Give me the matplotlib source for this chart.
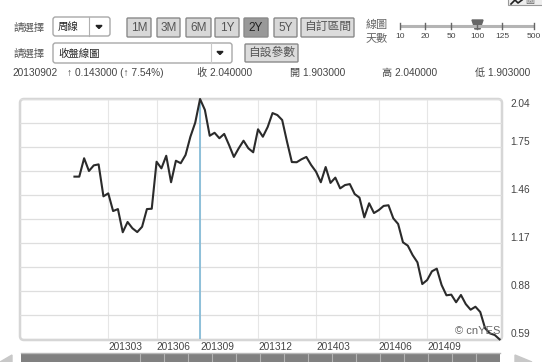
import matplotlib
matplotlib.use("Agg")
import matplotlib.pyplot as plt
from matplotlib.patches import FancyBboxPatch, Polygon, Rectangle

plt.rcParams["font.family"] = ["Liberation Sans", "Noto Sans CJK TC", "DejaVu Sans"]

# weekly close, 2013-2014
closes = [
    1.571, 1.571, 1.682, 1.605, 1.639, 1.645, 1.452, 1.470, 1.363, 1.375,
    1.235, 1.297, 1.259, 1.236, 1.268, 1.375, 1.377, 1.661, 1.621, 1.697,
    1.537, 1.667, 1.652, 1.702, 1.812, 1.897, 2.040, 1.974, 1.818, 1.836,
    1.803, 1.829, 1.762, 1.690, 1.742, 1.788, 1.742, 1.718, 1.857, 1.812,
    1.871, 1.955, 1.943, 1.913, 1.782, 1.659, 1.658, 1.676, 1.690, 1.641,
    1.601, 1.537, 1.629, 1.533, 1.565, 1.500, 1.520, 1.526, 1.466, 1.444,
    1.325, 1.410, 1.351, 1.369, 1.394, 1.398, 1.319, 1.285, 1.174, 1.154,
    1.097, 1.053, 0.922, 0.946, 0.999, 1.015, 0.916, 0.854, 0.858, 0.812,
    0.856, 0.801, 0.767, 0.785, 0.753, 0.655, 0.624, 0.614, 0.588,
]
month_labels = ["201303", "201306", "201309", "201312", "201403", "201406", "201409"]
month_weeks = [7, 17, 26, 38, 50, 63, 73]
price_ticks = [0.59, 0.88, 1.17, 1.46, 1.75, 2.04]
price_grid = [0.735, 1.025, 1.315, 1.605, 1.895]
peak_week = 26

period_buttons = ["1M", "3M", "6M", "1Y", "2Y", "5Y"]
period_left = [127, 157, 186, 215, 244, 274]
period_right = [151, 180, 211, 239, 268, 297]
active_period = "2Y"
days_labels = ["10", "20", "50", "100", "125", "500"]
days_x = [400, 425, 451, 477, 502, 534]

W, H = 542, 362
fig = plt.figure(figsize=(W / 100, H / 100), dpi=100)

# page chrome is laid out in pixels
ui = fig.add_axes([0, 0, 1, 1])
ui.set_xlim(0, W)
ui.set_ylim(H, 0)
ui.axis("off")


def box(x0, y0, x1, y1, face, edge="#a8a8a8", round_=2.5, lw=1.0):
    ui.add_patch(FancyBboxPatch((x0, y0), x1 - x0, y1 - y0, boxstyle=f"round,pad=0,rounding_size={round_}",
                                fc=face, ec=edge, lw=lw))


def label(x, y, s, size=7.5, color="#444444", ha="left", **kw):
    ui.text(x, y, s, fontsize=size, color=color, ha=ha, va="center", **kw)


def arrow_down(x, y):
    ui.add_patch(Polygon([(x - 3, y - 1.5), (x + 3, y - 1.5), (x, y + 1.5)], color="#222222"))


label(13, 28, "請選擇", 7.5, "#555555")
box(53, 17, 110, 36, "white")
ui.plot([89, 89], [17, 36], color="#b0b0b0", lw=0.8)
label(58, 27, "周線", 7.5, "#222222")
arrow_down(99, 27)

for name, x0, x1 in zip(period_buttons, period_left, period_right):
    active = name == active_period
    box(x0, 18, x1, 37, "#999999" if active else "#d8d8d8", "#8a8a8a", 1)
    label((x0 + x1) / 2, 28, name, 8.5, "#222222" if active else "#555555", ha="center")
box(301, 18, 354, 37, "#dcdcdc", "#8a8a8a", 1)
label(327.5, 28, "自訂區間", 8.5, "#555555", ha="center")

label(366, 25, "線圖", 8, "#666666")
label(366, 38, "天數", 8, "#666666")
ui.plot([days_x[0], days_x[-1]], [26, 26], color="#b4b4b4", lw=2.2, solid_capstyle="butt")
for d, x in zip(days_labels, days_x):
    ui.plot([x, x], [23, 29], color="#666666", lw=1)
    ui.text(x, 36, d, fontsize=6, color="#444444", ha="center", va="center", stretch="condensed")
ui.add_patch(Polygon([(472, 20), (483, 20), (480, 29), (475, 29)], color="#666666"))

label(13, 54, "請選擇", 7.5, "#555555")
box(53, 43, 232, 63, "white")
ui.plot([211, 211], [43, 63], color="#c8c8c8", lw=0.8)
label(58, 54, "收盤線圖", 7.5, "#222222")
arrow_down(220, 53)
box(245, 44, 298, 62, "#dcdcdc", "#8a8a8a", 1)
label(271.5, 53, "自設參數", 8.5, "#555555", ha="center")

label(12, 73, "20130902", 7.3)
label(67, 73, "↑ 0.143000 (↑ 7.54%)", 7.3)
label(197, 73, "收 2.040000", 7.3)
label(290, 73, "開 1.903000", 7.3)
label(382, 73, "高 2.040000", 7.3)
label(475, 73, "低 1.903000", 7.3)

# corner icon, cut by the top edge
ui.add_patch(Rectangle((508, -4), 40, 9, fc="#eeeeee", ec="#999999", lw=0.8))
ui.plot([511, 515, 518, 522], [4, 0, 3, 0], color="#222222", lw=1.2)
ui.text(525, 1, "圖", fontsize=6.5, color="#666666", va="center", clip_on=True)

# chart frame
box(20, 99, 502, 340, "white", "#d6d6d6", 4, 1.8)

# scroll bar under the chart
ui.add_patch(Rectangle((21, 353), 479, 10, fc="#808080", ec="none"))
ui.plot([21, 500], [353, 353], color="#b8b8b8", lw=1)
for x in range(140, 500, 24):
    ui.plot([x, x], [354, 362], color="#b4b4b4", lw=0.8)
ui.add_patch(Polygon([(0, 362), (12, 355), (12, 362)], color="#c8c8c8"))
ui.add_patch(Polygon([(515, 355), (532, 362), (515, 362)], color="#c8c8c8"))

# price chart
ax = fig.add_axes([20 / W, 1 - 339 / H, 482 / W, 240 / H])
ax.patch.set_alpha(0)
weeks = range(len(closes))
ax.set_xlim(-11.27, 88.5)
ax.set_ylim(price_ticks[0], price_ticks[-1])
for s in ax.spines.values():
    s.set_visible(False)

ax.set_xticks(month_weeks)
ax.set_xticklabels(month_labels, ha="left", fontsize=7.3, color="#444444")
ax.yaxis.tick_right()
ax.set_yticks(price_ticks)
ax.set_yticklabels([f"{p:.2f}" for p in price_ticks], fontsize=7.3, color="#444444", va="bottom")
ax.get_yticklabels()[-1].set_va("top")
ax.set_yticks(price_grid, minor=True)
ax.tick_params(axis="both", which="both", length=0)
ax.tick_params(axis="y", pad=6)
ax.tick_params(axis="x", pad=2)
for t in ax.get_xticklabels():
    t.set_x(t.get_position()[0])
ax.grid(True, axis="y", which="both", color="#dedede", lw=0.9)
ax.grid(True, axis="x", color="#e6e6e6", lw=0.8)
ax.set_axisbelow(True)

ax.axvline(peak_week, color="#86bcd8", lw=1.3, zorder=2)
ax.plot(weeks, closes, color="#2b2b2b", lw=1.5, zorder=3, clip_on=False)
ax.text(0.997, 0.035, "© cnYES", transform=ax.transAxes, fontsize=8, color="#666666", ha="right", va="center", zorder=4)

fig.savefig("out.png", dpi=100)
